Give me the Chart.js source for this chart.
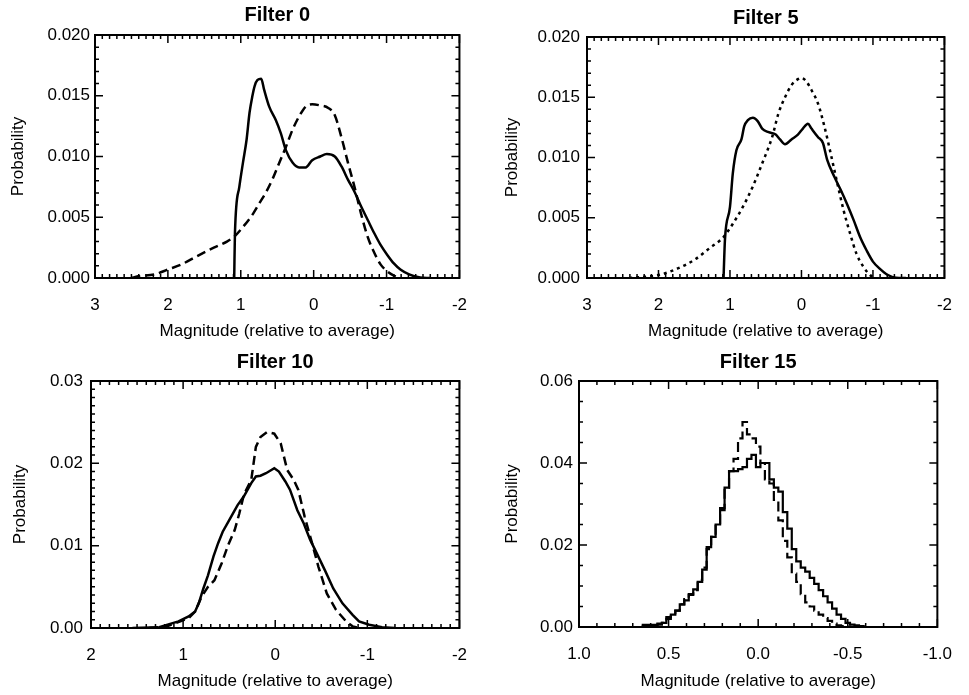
<!DOCTYPE html>
<html>
<head>
<meta charset="utf-8">
<script src="https://cdn.jsdelivr.net/npm/chart.js@4.4.1/dist/chart.umd.min.js"></script>
<style>
  html, body { margin: 0; padding: 0; background: #fff; }
  #wrap { position: relative; width: 969px; height: 695px; overflow: hidden; }
  canvas { position: absolute; }
</style>
</head>
<body>
<div id="wrap">
  <canvas id="c0" width="484" height="345" style="left:0px;top:0px"></canvas>
  <canvas id="c5" width="485" height="345" style="left:484px;top:0px"></canvas>
  <canvas id="c10" width="484" height="350" style="left:0px;top:345px"></canvas>
  <canvas id="c15" width="485" height="350" style="left:484px;top:345px"></canvas>
</div>
<script>
// Filter 0
const f0SolidX = [1.09, 1.08, 1.02, 0.97, 0.92, 0.88, 0.84, 0.81, 0.77, 0.72, 0.68, 0.61, 0.52, 0.45, 0.38, 0.29, 0.20, 0.11, 0.02, -0.09, -0.18, -0.29, -0.38, -0.47, -0.56, -0.65, -0.74, -0.83, -0.92, -1.01, -1.10, -1.19, -1.31, -1.46, -1.60];
const f0SolidY = [0, 0.0037, 0.0075, 0.0095, 0.0114, 0.0136, 0.0150, 0.0158, 0.0163, 0.0164, 0.0155, 0.0141, 0.0130, 0.0119, 0.0105, 0.0095, 0.0091, 0.0091, 0.0097, 0.0100, 0.0102, 0.0100, 0.0092, 0.0081, 0.0071, 0.0059, 0.0048, 0.0037, 0.0027, 0.0019, 0.0012, 0.0007, 0.0003, 0.00005, 0];
const f0DashX = [2.50, 2.41, 2.18, 2.00, 1.82, 1.60, 1.37, 1.19, 1.09, 0.97, 0.83, 0.74, 0.65, 0.56, 0.47, 0.38, 0.29, 0.20, 0.11, 0.02, -0.09, -0.20, -0.29, -0.38, -0.47, -0.56, -0.65, -0.74, -0.83, -0.92, -1.01, -1.10, -1.19];
const f0DashY = [0, 0.00014, 0.0003, 0.0007, 0.0011, 0.0018, 0.0025, 0.0030, 0.0034, 0.0042, 0.0053, 0.0062, 0.0071, 0.0082, 0.0095, 0.0108, 0.0122, 0.0133, 0.0141, 0.0143, 0.0142, 0.0140, 0.0134, 0.0116, 0.0095, 0.0075, 0.0053, 0.0034, 0.0021, 0.0011, 0.00055, 0.0002, 0];

// Filter 5
const f5SolidX = [1.09, 1.07, 1.00, 0.96, 0.91, 0.84, 0.80, 0.75, 0.68, 0.61, 0.55, 0.46, 0.36, 0.30, 0.23, 0.14, 0.05, -0.02, -0.09, -0.14, -0.23, -0.30, -0.36, -0.46, -0.55, -0.64, -0.73, -0.82, -0.91, -1.00, -1.09, -1.21, -1.32, -1.46];
const f5SolidY = [0, 0.0032, 0.0059, 0.0087, 0.0106, 0.0115, 0.0126, 0.0131, 0.0133, 0.0130, 0.0124, 0.0121, 0.0119, 0.0115, 0.0111, 0.0115, 0.0119, 0.0124, 0.0128, 0.0124, 0.0117, 0.0112, 0.0098, 0.0084, 0.0073, 0.0061, 0.0048, 0.0034, 0.0023, 0.00136, 0.0008, 0.00025, 0.00003, 0];
const f5DotX = [2.41, 2.19, 1.96, 1.73, 1.50, 1.28, 1.09, 0.96, 0.82, 0.68, 0.55, 0.41, 0.32, 0.23, 0.14, 0.05, 0.00, -0.07, -0.14, -0.23, -0.32, -0.41, -0.50, -0.59, -0.68, -0.77, -0.87, -0.96, -1.02];
const f5DotY = [0, 0.0001, 0.0003, 0.0008, 0.0015, 0.0025, 0.0034, 0.0045, 0.0059, 0.0076, 0.0095, 0.0117, 0.0137, 0.0150, 0.0160, 0.0165, 0.0166, 0.0163, 0.0156, 0.0145, 0.0126, 0.0103, 0.0079, 0.0056, 0.0037, 0.0020, 0.0009, 0.00025, 0];

// Filter 10
const f10SolidX = [1.55, 1.26, 1.05, 0.94, 0.87, 0.83, 0.78, 0.73, 0.67, 0.62, 0.57, 0.51, 0.46, 0.41, 0.34, 0.26, 0.21, 0.16, 0.10, 0.01, -0.04, -0.11, -0.16, -0.24, -0.31, -0.38, -0.45, -0.54, -0.63, -0.73, -0.84, -0.91, -1.02, -1.16, -1.30];
const f10SolidY = [0, 0.0001, 0.0008, 0.0014, 0.0020, 0.0030, 0.0048, 0.0064, 0.0087, 0.0103, 0.0117, 0.0129, 0.0139, 0.0149, 0.0160, 0.0176, 0.0184, 0.0185, 0.0188, 0.0194, 0.0190, 0.0178, 0.0168, 0.0143, 0.0127, 0.0107, 0.0091, 0.0070, 0.0048, 0.0030, 0.0016, 0.0008, 0.0004, 0.0001, 0];
const f10DashX = [1.37, 1.19, 1.03, 0.94, 0.87, 0.80, 0.73, 0.66, 0.58, 0.51, 0.44, 0.39, 0.34, 0.26, 0.21, 0.16, 0.09, 0.01, -0.06, -0.13, -0.20, -0.25, -0.32, -0.40, -0.47, -0.56, -0.66, -0.77, -0.84, -0.91];
const f10DashY = [0, 0.00016, 0.0008, 0.0012, 0.0020, 0.0038, 0.0050, 0.0058, 0.0079, 0.0101, 0.0119, 0.0139, 0.0162, 0.0180, 0.0220, 0.0232, 0.0238, 0.0236, 0.0224, 0.0192, 0.0180, 0.0168, 0.0135, 0.0103, 0.0074, 0.0042, 0.0022, 0.0008, 0.0002, 0];

// Filter 15 (histogram bins)
const f15Bins = [0.65, 0.625, 0.6, 0.575, 0.55, 0.525, 0.5, 0.475, 0.45, 0.425, 0.4, 0.375, 0.35, 0.325, 0.3, 0.275, 0.25, 0.225, 0.2, 0.175, 0.15, 0.125, 0.1, 0.075, 0.05, 0.025, 0.0, -0.025, -0.05, -0.075, -0.1, -0.125, -0.15, -0.175, -0.2, -0.225, -0.25, -0.275, -0.3, -0.325, -0.35, -0.375, -0.4, -0.425, -0.45, -0.475, -0.5, -0.525, -0.55, -0.575, -0.6];
const f15Solid = [0.0005, 0.0005, 0.0005, 0.0005, 0.0008, 0.001, 0.0024, 0.003, 0.004, 0.0055, 0.0065, 0.0078, 0.0092, 0.011, 0.014, 0.0195, 0.022, 0.025, 0.0285, 0.034, 0.038, 0.038, 0.0385, 0.039, 0.041, 0.042, 0.039, 0.040, 0.040, 0.036, 0.034, 0.033, 0.028, 0.024, 0.019, 0.016, 0.0145, 0.0135, 0.012, 0.0105, 0.009, 0.0075, 0.006, 0.0045, 0.003, 0.002, 0.001, 0.0006, 0.0004, 0.0002, 0.0001];
const f15Dash = [0.0003, 0.0003, 0.0003, 0.0003, 0.0006, 0.001, 0.002, 0.003, 0.004, 0.0055, 0.0068, 0.008, 0.009, 0.0115, 0.0145, 0.019, 0.022, 0.025, 0.029, 0.034, 0.038, 0.041, 0.046, 0.050, 0.047, 0.046, 0.044, 0.040, 0.036, 0.035, 0.031, 0.026, 0.021, 0.017, 0.013, 0.011, 0.008, 0.006, 0.005, 0.004, 0.003, 0.0022, 0.0015, 0.0008, 0.0004, 0.0002, 0.0001, 0, 0, 0, 0];

const FONT = '"Liberation Sans", Helvetica, Arial, sans-serif';
Chart.defaults.font.family = FONT;
Chart.defaults.color = '#000';

const pts = (xs, ys) => xs.map((x, i) => ({ x: x, y: ys[i] }));

// IDL style box with inward ticks on all four sides
const idlFrame = {
  id: 'idlFrame',
  afterDraw(chart, args, opts) {
    const { ctx, chartArea: a, scales } = chart;
    const marks = (scale, n) => {
      const t = scale.ticks.map(k => k.value);
      const out = [];
      for (let i = 0; i < t.length; i++) {
        out.push([t[i], true]);
        if (i < t.length - 1) {
          for (let j = 1; j < n; j++) out.push([t[i] + (t[i + 1] - t[i]) * j / n, false]);
        }
      }
      return out;
    };
    ctx.save();
    ctx.strokeStyle = '#000';
    ctx.lineWidth = 1.5;
    ctx.beginPath();
    marks(scales.x, opts.xMinor).forEach(([v, major]) => {
      const px = scales.x.getPixelForValue(v);
      const len = major ? 8 : 4;
      ctx.moveTo(px, a.bottom); ctx.lineTo(px, a.bottom - len);
      ctx.moveTo(px, a.top); ctx.lineTo(px, a.top + len);
    });
    marks(scales.y, opts.yMinor).forEach(([v, major]) => {
      const py = scales.y.getPixelForValue(v);
      const len = major ? 8 : 4;
      ctx.moveTo(a.left, py); ctx.lineTo(a.left + len, py);
      ctx.moveTo(a.right, py); ctx.lineTo(a.right - len, py);
    });
    ctx.stroke();
    ctx.lineWidth = 2;
    ctx.strokeRect(a.left, a.top, a.right - a.left, a.bottom - a.top);
    ctx.restore();
  }
};

function makePanel(id, p) {
  const canvas = document.getElementById(id);
  const W = canvas.width, H = canvas.height;
  return new Chart(canvas.getContext('2d'), {
    type: 'line',
    data: { datasets: p.datasets },
    options: {
      responsive: false,
      animation: false,
      events: [],
      layout: { padding: { left: 0, right: W - p.plotR, top: 0, bottom: 0 } },
      elements: { point: { radius: 0 } },
      plugins: {
        legend: { display: false },
        tooltip: { enabled: false },
        title: {
          display: true,
          text: p.title,
          fullSize: false,
          font: { size: 20, weight: 'bold' },
          color: '#000',
          padding: { top: p.titleCY - 12, bottom: p.plotT - p.titleCY - 12 }
        },
        idlFrame: { xMinor: p.xMinor, yMinor: p.yMinor }
      },
      scales: {
        x: {
          type: 'linear',
          reverse: true,
          min: p.xMin,
          max: p.xMax,
          afterFit: s => { s.height = H - p.plotB; },
          grid: { display: false, drawTicks: false },
          border: { display: false },
          ticks: {
            stepSize: p.xStep,
            padding: 17,
            maxRotation: 0,
            autoSkip: false,
            font: { size: 17 },
            callback: v => v.toFixed(p.xDec)
          },
          title: {
            display: true,
            text: 'Magnitude (relative to average)',
            font: { size: 17 },
            padding: { top: 0, bottom: 3 }
          }
        },
        y: {
          type: 'linear',
          min: 0,
          max: p.yMax,
          afterFit: s => { s.width = p.plotL; },
          grid: { display: false, drawTicks: false },
          border: { display: false },
          ticks: {
            stepSize: p.yStep,
            padding: p.tickGap,
            autoSkip: false,
            font: { size: 17 },
            callback: v => v.toFixed(p.yDec)
          },
          title: {
            display: true,
            text: 'Probability',
            font: { size: 17 },
            padding: { top: p.yTitleCX - 10, bottom: 0 }
          }
        }
      }
    },
    plugins: [idlFrame]
  });
}

const solid = (data, extra) => Object.assign({ data: data, borderColor: '#000', borderWidth: 2.5, fill: false, tension: 0 }, extra || {});

makePanel('c0', {
  title: 'Filter 0', plotL: 95, plotR: 465, plotT: 35, plotB: 278, titleCY: 15, yTitleCX: 18, tickGap: 5,
  xMin: -2, xMax: 3, xStep: 1, xDec: 0, yMax: 0.02, yStep: 0.005, yDec: 3, xMinor: 10, yMinor: 5,
  datasets: [
    solid(pts(f0SolidX, f0SolidY), { cubicInterpolationMode: 'monotone' }),
    solid(pts(f0DashX, f0DashY), { cubicInterpolationMode: 'monotone', borderDash: [9, 5] })
  ]
});

makePanel('c5', {
  title: 'Filter 5', plotL: 103, plotR: 469, plotT: 37, plotB: 278, titleCY: 18, yTitleCX: 28, tickGap: 7,
  xMin: -2, xMax: 3, xStep: 1, xDec: 0, yMax: 0.02, yStep: 0.005, yDec: 3, xMinor: 10, yMinor: 5,
  datasets: [
    solid(pts(f5SolidX, f5SolidY), { cubicInterpolationMode: 'monotone' }),
    solid(pts(f5DotX, f5DotY), { cubicInterpolationMode: 'monotone', borderDash: [3, 4] })
  ]
});

makePanel('c10', {
  title: 'Filter 10', plotL: 91, plotR: 465, plotT: 36, plotB: 283, titleCY: 17, yTitleCX: 20, tickGap: 8,
  xMin: -2, xMax: 2, xStep: 1, xDec: 0, yMax: 0.03, yStep: 0.01, yDec: 2, xMinor: 10, yMinor: 10,
  datasets: [
    solid(pts(f10SolidX, f10SolidY)),
    solid(pts(f10DashX, f10DashY), { borderDash: [9, 5] })
  ]
});

makePanel('c15', {
  title: 'Filter 15', plotL: 95, plotR: 467, plotT: 36, plotB: 282, titleCY: 17, yTitleCX: 28, tickGap: 6,
  xMin: -1, xMax: 1, xStep: 0.5, xDec: 1, yMax: 0.06, yStep: 0.02, yDec: 2, xMinor: 5, yMinor: 4,
  datasets: [
    solid(pts(f15Bins, f15Solid), { stepped: 'middle', borderWidth: 2.2 }),
    solid(pts(f15Bins, f15Dash), { stepped: 'middle', borderWidth: 2.2, borderDash: [10, 5] })
  ]
});
</script>
</body>
</html>
